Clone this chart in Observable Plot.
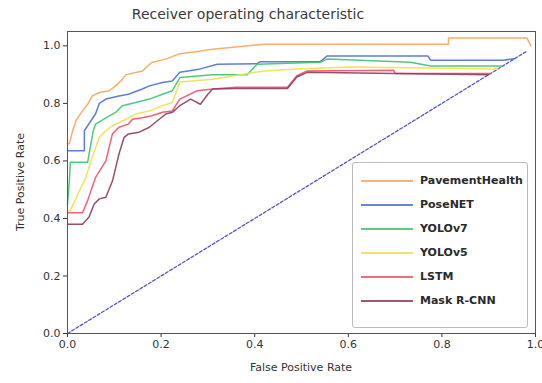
<!DOCTYPE html>
<html>
<head>
<meta charset="utf-8">
<script src="https://cdn.jsdelivr.net/npm/d3@7"></script>
<script src="https://cdn.jsdelivr.net/npm/@observablehq/plot@0.6"></script>
<style>
  body { margin: 0; background: #fff; font-family: "DejaVu Sans", sans-serif; }
  #wrap { position: relative; width: 542px; height: 383px; overflow: hidden; }
  #title { position: absolute; top: 6px; left: 0; width: 496px; text-align: center; font-size: 14px; color: #3a3a3a; }
  #xlab { position: absolute; top: 361px; left: 67px; width: 468px; text-align: center; font-size: 11px; color: #333; }
  #ylab { position: absolute; left: 20px; top: 182px; transform: translate(-50%, -50%) rotate(-90deg); font-size: 11px; color: #333; white-space: nowrap; }
  #legend { position: absolute; left: 352px; top: 162px; width: 174px; height: 164px; border: 1px solid #bbb; border-radius: 3px; background: #fff; }
  .row { position: absolute; left: 0; height: 16px; width: 174px; }
  .row svg { position: absolute; left: 8px; top: 0; }
  .row span { position: absolute; left: 67px; top: 1px; font-size: 11px; font-weight: bold; color: #2a2a2a; white-space: nowrap; }
</style>
</head>
<body>
<div id="wrap">
  <div id="chart"></div>
  <div id="title">Receiver operating characteristic</div>
  <div id="xlab">False Positive Rate</div>
  <div id="ylab">True Positive Rate</div>
  <div id="legend"></div>
</div>
<script>
const names = ["PavementHealth", "PoseNET", "YOLOv7", "YOLOv5", "LSTM", "Mask R-CNN"];
const colors = ["#f5a65b", "#4a6fd8", "#3cc46a", "#f2df4a", "#f0506a", "#8e3b5e"];

const pavementFpr = [0, 0.004, 0.011, 0.018, 0.032, 0.043, 0.053, 0.068, 0.089, 0.103, 0.114, 0.125, 0.16, 0.18, 0.21, 0.24, 0.274, 0.31, 0.42, 0.814, 0.814, 0.982, 0.99];
const pavementTpr = [0.66, 0.66, 0.705, 0.74, 0.774, 0.797, 0.826, 0.838, 0.844, 0.861, 0.878, 0.9, 0.913, 0.942, 0.954, 0.973, 0.98, 0.988, 1.006, 1.006, 1.027, 1.027, 1.0];

const posenetFpr = [0, 0.036, 0.036, 0.06, 0.068, 0.082, 0.11, 0.13, 0.16, 0.175, 0.203, 0.224, 0.24, 0.284, 0.32, 0.405, 0.412, 0.54, 0.555, 0.77, 0.776, 0.93, 0.955];
const posenetTpr = [0.635, 0.635, 0.705, 0.764, 0.80, 0.815, 0.826, 0.832, 0.85, 0.861, 0.873, 0.878, 0.908, 0.92, 0.936, 0.938, 0.945, 0.945, 0.965, 0.965, 0.95, 0.95, 0.955];

const yolov7Fpr = [0, 0.004, 0.006, 0.043, 0.055, 0.06, 0.082, 0.103, 0.117, 0.146, 0.175, 0.203, 0.224, 0.24, 0.31, 0.384, 0.405, 0.54, 0.555, 0.733, 0.776, 0.93];
const yolov7Tpr = [0.45, 0.53, 0.595, 0.595, 0.705, 0.728, 0.75, 0.769, 0.792, 0.803, 0.815, 0.832, 0.844, 0.89, 0.90, 0.90, 0.936, 0.943, 0.954, 0.943, 0.93, 0.93];

const yolov5Fpr = [0, 0.006, 0.039, 0.053, 0.068, 0.082, 0.096, 0.125, 0.146, 0.175, 0.203, 0.224, 0.24, 0.31, 0.42, 0.49, 0.605, 0.92];
const yolov5Tpr = [0.427, 0.427, 0.543, 0.613, 0.682, 0.705, 0.722, 0.745, 0.763, 0.774, 0.792, 0.803, 0.874, 0.884, 0.913, 0.92, 0.927, 0.92];

const lstmFpr = [0, 0.032, 0.043, 0.06, 0.082, 0.089, 0.096, 0.11, 0.13, 0.139, 0.16, 0.18, 0.203, 0.224, 0.24, 0.277, 0.31, 0.36, 0.47, 0.49, 0.512, 0.697, 0.70, 0.905];
const lstmTpr = [0.42, 0.42, 0.462, 0.543, 0.60, 0.647, 0.694, 0.717, 0.728, 0.745, 0.75, 0.757, 0.769, 0.774, 0.815, 0.844, 0.85, 0.856, 0.856, 0.896, 0.913, 0.915, 0.904, 0.904];

const maskFpr = [0, 0.032, 0.046, 0.057, 0.068, 0.082, 0.096, 0.11, 0.121, 0.13, 0.153, 0.175, 0.196, 0.21, 0.224, 0.24, 0.263, 0.284, 0.30, 0.31, 0.36, 0.47, 0.49, 0.512, 0.70, 0.90];
const maskTpr = [0.38, 0.38, 0.405, 0.45, 0.468, 0.474, 0.53, 0.624, 0.682, 0.694, 0.70, 0.717, 0.745, 0.763, 0.769, 0.792, 0.815, 0.797, 0.832, 0.85, 0.852, 0.852, 0.892, 0.908, 0.904, 0.90];

const diagonal = [0, 0.98];
const yTicks = [0, 0.2, 0.4, 0.6, 0.8, 1.0];
const xTicks = [0, 0.2, 0.4, 0.6, 0.8, 1.0];

const series = [
  [pavementFpr, pavementTpr], [posenetFpr, posenetTpr], [yolov7Fpr, yolov7Tpr],
  [yolov5Fpr, yolov5Tpr], [lstmFpr, lstmTpr], [maskFpr, maskTpr]
];
const rows = [];
series.forEach(([fx, ty], i) => fx.forEach((x, j) => rows.push({name: names[i], fpr: x, tpr: ty[j]})));
const diag = diagonal.map(v => ({fpr: v, tpr: v}));

const chart = Plot.plot({
  width: 542, height: 383,
  marginLeft: 67, marginRight: 7, marginTop: 31, marginBottom: 50,
  style: {fontFamily: "DejaVu Sans, sans-serif", fontSize: "11px", color: "#333", background: "transparent"},
  x: {domain: [0, 1], ticks: xTicks, tickFormat: d3.format(".1f"), tickSize: 4, tickPadding: 3, label: null},
  y: {domain: [0, 1.05], ticks: yTicks, tickFormat: d3.format(".1f"), tickSize: 4, tickPadding: 3, label: null},
  color: {domain: names, range: colors},
  marks: [
    Plot.line(diag, {x: "fpr", y: "tpr", stroke: "#5656c4", strokeWidth: 1.3, strokeDasharray: "3,2"}),
    Plot.line(rows, {x: "fpr", y: "tpr", z: "name", stroke: "name", strokeWidth: 1.5, strokeOpacity: 0.9}),
    Plot.frame({stroke: "#555"})
  ]
});
document.getElementById("chart").appendChild(chart);

const leg = document.getElementById("legend");
names.forEach((n, i) => {
  const r = document.createElement("div");
  r.className = "row";
  r.style.top = (10 + i * 24) + "px";
  r.innerHTML = `<svg width="54" height="16"><line x1="0" x2="52" y1="8" y2="8" stroke="${colors[i]}" stroke-width="2" stroke-opacity="0.85"/></svg><span>${n}</span>`;
  leg.appendChild(r);
});
</script>
</body>
</html>
